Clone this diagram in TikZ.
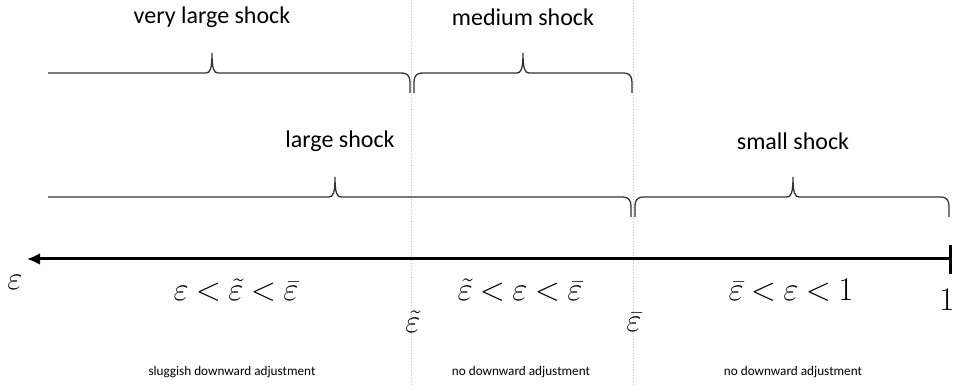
\documentclass[tikz,border=0pt]{standalone}
\usepackage{fix-cm}
\usepackage{fontspec}
\setmainfont{Carlito}
\usepackage{tikz}
\usetikzlibrary{arrows.meta}

\begin{document}
\begin{tikzpicture}[x=1pt, y=1pt,
    shocktext/.style={inner sep=0pt, font=\fontsize{24}{28}\selectfont},
    eqtext/.style={inner sep=0pt, font={\fontsize{33}{38}\selectfont\thickmuskip=4mu\relax}},
    remark/.style={inner sep=0pt, font=\fontsize{13.2}{16}\selectfont},
    bracepath/.style={line width=1.3pt, black!80},
    threshold/.style={dotted, gray!45, line width=0.8pt},
    axis/.style={line width=3pt}]
    \useasboundingbox (0,0) rectangle (954,390);

    % thresholds
    \coordinate (tT) at (411,390);
    \coordinate (tB) at (411,4);
    \coordinate (bT) at (633,390);
    \coordinate (bB) at (633,4);
    \draw[threshold] (tT) -- (tB);
    \draw[threshold] (bT) -- (bB);

    % Row 1: very large / medium
    \draw[bracepath] (48,317) -- (206,317) .. controls (210,317) and (212,321) .. (212,337)
        .. controls (212,321) and (214,317) .. (218,317) -- (402,317)
        .. controls (407,317) and (410,314) .. (410,308) -- (410,297);
    \draw[bracepath] (414,297) -- (414,308) .. controls (414,314) and (417,317) .. (422,317)
        -- (517,317) .. controls (521,317) and (523,321) .. (523,337)
        .. controls (523,321) and (525,317) .. (529,317) -- (624,317)
        .. controls (629,317) and (632,314) .. (632,308) -- (632,297);
    \node[shocktext] (vls) at (212,373) {very large shock};
    \node[shocktext] (ms) at (523,373) {medium shock};

    % Row 2: large / small
    \draw[bracepath] (48,193) -- (329,193) .. controls (333,193) and (335,197) .. (335,213)
        .. controls (335,197) and (337,193) .. (341,193) -- (623,193)
        .. controls (628,193) and (631,190) .. (631,184) -- (631,173);
    \draw[bracepath] (635,173) -- (635,184) .. controls (635,190) and (638,193) .. (643,193)
        -- (787,193) .. controls (791,193) and (793,197) .. (793,213)
        .. controls (793,197) and (795,193) .. (799,193) -- (941,193)
        .. controls (946,193) and (949,190) .. (949,184) -- (949,173);
    \node[shocktext] (ls) at (340,249) {large shock};
    \node[shocktext] (ss) at (793,249) {small shock};

    % epsilon axis
    \coordinate (axL) at (27,131);
    \coordinate (axR) at (950,131);
    \coordinate (tkT) at (950,145);
    \coordinate (tkB) at (950,116);
    \draw[axis, {Latex[length=13pt,width=12pt]}-] (axL) -- (axR);
    \draw[axis] (tkT) -- (tkB);

    \node[eqtext] (eps) at (15,108) {$\varepsilon$};
    \node[eqtext] (one) at (947,90) {$1$};
    \node[eqtext] (epst) at (413,68) {$\tilde{\varepsilon}$};
    \node[eqtext] (epsb) at (634,68) {$\bar{\varepsilon}$};
    \node[eqtext] (r1) at (236,100) {$\varepsilon < \tilde{\varepsilon} < \bar{\varepsilon}$};
    \node[eqtext] (r2) at (520,100) {$\tilde{\varepsilon} < \varepsilon < \bar{\varepsilon}$};
    \node[eqtext] (r3) at (791,100) {$\bar{\varepsilon} < \varepsilon < 1$};

    % adjustment regimes
    \node[remark] (sl) at (232,18) {sluggish downward adjustment};
    \node[remark] (nd1) at (521,18) {no downward adjustment};
    \node[remark] (nd2) at (793,18) {no downward adjustment};
\end{tikzpicture}
\end{document}
